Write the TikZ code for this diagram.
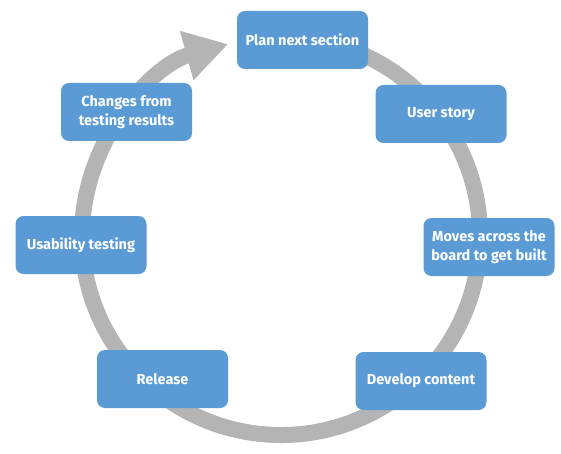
\documentclass[tikz,border=0pt]{standalone}
\usepackage{fontspec}
\setmainfont{Fira Sans}
\usetikzlibrary{arrows.meta}
\definecolor{boxblue}{HTML}{5B9BD5}
\definecolor{ringgray}{HTML}{B4B4B4}
\begin{document}
\begin{tikzpicture}[x=1pt,y=1pt,
  box/.style={fill=boxblue, rounded corners=8pt, minimum width=131pt, minimum height=58pt,
    text=white, font=\bfseries\fontsize{14.5}{19}\selectfont, align=center, inner sep=0pt}]
\useasboundingbox (0,0) rectangle (561,453);
\coordinate (c) at (281,217);
\draw[ringgray, line width=16pt, -{Triangle[length=43pt,width=48pt]}]
  (c) ++(80:199) arc[start angle=80, end angle=-254.6, radius=199];
\node[box] (plan) at (302.5,413) {Plan next section};
\node[box] (user) at (441,339) {User story};
\node[box] (moves) at (489,206) {Moves across the\\board to get built};
\node[box] (dev) at (421,72) {Develop content};
\node[box] (rel) at (162.5,74) {Release};
\node[box] (usa) at (81,208) {Usability testing};
\node[box] (chg) at (126.5,341) {Changes from\\testing results};
\end{tikzpicture}
\end{document}
